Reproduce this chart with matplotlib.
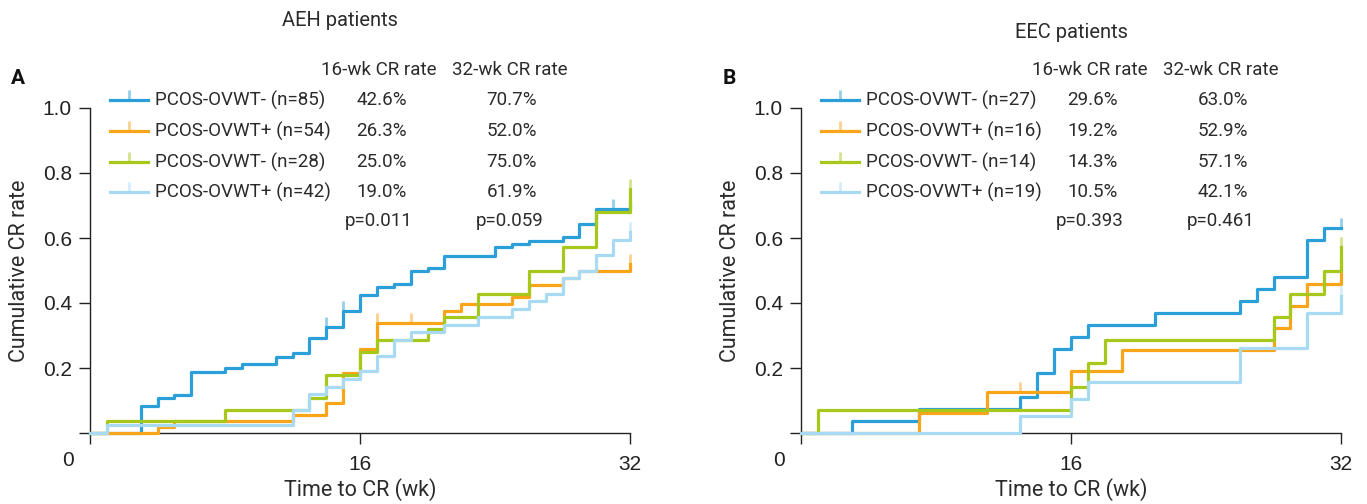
import matplotlib.pyplot as plt
import numpy as np
from matplotlib.colors import to_rgba

plt.rcParams['font.family'] = ['Roboto', 'DejaVu Sans']

# Group labels / rates
labels_a = ['PCOS-OVWT- (n=85)', 'PCOS-OVWT+ (n=54)', 'PCOS-OVWT- (n=28)', 'PCOS-OVWT+ (n=42)']
rate16_a = ['42.6%', '26.3%', '25.0%', '19.0%']
rate32_a = ['70.7%', '52.0%', '75.0%', '61.9%']
pvals_a = ['p=0.011', 'p=0.059']

labels_b = ['PCOS-OVWT- (n=27)', 'PCOS-OVWT+ (n=16)', 'PCOS-OVWT- (n=14)', 'PCOS-OVWT+ (n=19)']
rate16_b = ['29.6%', '19.2%', '14.3%', '10.5%']
rate32_b = ['63.0%', '52.9%', '57.1%', '42.1%']
pvals_b = ['p=0.393', 'p=0.461']

# Panel A step curves (weeks, cumulative CR rate)
a_blue_t = [0, 3, 4, 5, 6, 8, 9, 11, 12, 13, 14, 15, 16, 17, 18, 19, 20, 21, 24, 25, 26, 28, 29, 30, 32]
a_blue_v = [0, 0.083, 0.107, 0.117, 0.189, 0.199, 0.211, 0.233, 0.247, 0.293, 0.327, 0.376, 0.425,
            0.448, 0.46, 0.50, 0.507, 0.545, 0.571, 0.582, 0.592, 0.604, 0.643, 0.688, 0.707]
a_blue_cens = [14, 15, 31]

a_orange_t = [0, 4, 5, 12, 14, 15, 16, 17, 21, 22, 25, 26, 28, 29, 32]
a_orange_v = [0, 0.0185, 0.037, 0.055, 0.093, 0.186, 0.26, 0.337, 0.376, 0.397, 0.42, 0.455, 0.478, 0.50, 0.52]
a_orange_cens = [17, 19, 32]

a_green_t = [0, 1, 8, 13, 14, 16, 17, 20, 21, 23, 26, 28, 30, 32]
a_green_v = [0, 0.0357, 0.0714, 0.107, 0.178, 0.25, 0.286, 0.321, 0.357, 0.429, 0.50, 0.571, 0.679, 0.75]
a_green_cens = [32]

a_light_t = [0, 1, 12, 13, 14, 15, 16, 17, 18, 19, 21, 23, 25, 26, 27, 28, 29, 30, 31, 32]
a_light_v = [0, 0.0238, 0.071, 0.119, 0.143, 0.167, 0.19, 0.238, 0.286, 0.31, 0.333, 0.357, 0.381,
             0.405, 0.429, 0.476, 0.50, 0.548, 0.595, 0.619]
a_light_cens = [32]

# Panel B step curves
b_blue_t = [0, 3, 7, 13, 14, 15, 16, 17, 21, 26, 27, 28, 30, 31, 32]
b_blue_v = [0, 0.037, 0.074, 0.111, 0.185, 0.259, 0.296, 0.333, 0.37, 0.407, 0.444, 0.481, 0.593, 0.63, 0.63]
b_blue_cens = [32]

b_orange_t = [0, 7, 11, 16, 19, 28, 29, 30, 32]
b_orange_v = [0, 0.0625, 0.125, 0.192, 0.256, 0.323, 0.39, 0.457, 0.529]
b_orange_cens = [13, 32]

b_green_t = [0, 1, 16, 17, 18, 28, 29, 31, 32]
b_green_v = [0, 0.0714, 0.143, 0.214, 0.286, 0.357, 0.429, 0.50, 0.571]
b_green_cens = [32]

b_light_t = [0, 13, 16, 17, 26, 30, 32]
b_light_v = [0, 0.0526, 0.105, 0.158, 0.263, 0.368, 0.421]
b_light_cens = [32]

colors = ['#2a9fd8', '#f9a51a', '#a6c81a', '#a8daf4']
txt = '#2b2b2b'
fs = 13.5


def draw_panel(ax, curves, labels, r16, r32, pvals):
    for (t, v, cens), c in zip(curves, colors):
        t = np.array(t)
        v = np.array(v)
        ax.step(t, v, where='post', color=c, lw=2.3, clip_on=False, zorder=3)
        idx = np.searchsorted(t, cens, side='right') - 1
        ax.plot(cens, v[idx], ls='none', marker=2, ms=7, mew=2, color=to_rgba(c, 0.5),
                clip_on=False, zorder=3)

    ax.set_xlim(0, 32)
    ax.set_ylim(0, 1.0)
    ax.set_xticks([0, 16, 32])
    ax.set_xticklabels(['', '16', '32'])
    ax.set_yticks([0, 0.2, 0.4, 0.6, 0.8, 1.0])
    ax.set_yticklabels(['', '0.2', '0.4', '0.6', '0.8', '1.0'])
    ax.tick_params(direction='out', length=8, width=1, labelsize=15, pad=5, colors='#222222')
    ax.tick_params(axis='x', pad=8)
    for lab in ax.get_xticklabels() + ax.get_yticklabels():
        lab.set_family('Liberation Sans')
    ax.text(-0.04, -0.086, '0', transform=ax.transAxes, ha='center', va='center',
            fontsize=15, family='Liberation Sans', color='#222222')
    for s in ['top', 'right']:
        ax.spines[s].set_visible(False)
    for s in ['left', 'bottom']:
        ax.spines[s].set_linewidth(1)
        ax.spines[s].set_color('#222222')

    ax.set_xlabel('Time to CR (wk)', fontsize=15.5, color=txt, labelpad=3)
    ax.set_ylabel('Cumulative CR rate', fontsize=15.5, color=txt, labelpad=9)

    # legend table
    rows = [1.024, 0.929, 0.834, 0.741]
    ax.text(0.535, 1.117, '16-wk CR rate', transform=ax.transAxes, ha='center', va='center',
            fontsize=fs, color=txt)
    ax.text(0.778, 1.117, '32-wk CR rate', transform=ax.transAxes, ha='center', va='center',
            fontsize=fs, color=txt)
    for y, c, lab, a, b in zip(rows, colors, labels, r16, r32):
        ax.plot([0.037, 0.107], [y, y], transform=ax.transAxes, color=c, lw=2.3, clip_on=False)
        ax.plot([0.072], [y], transform=ax.transAxes, ls='none', marker=2, ms=7, mew=2,
                color=to_rgba(c, 0.5), clip_on=False)
        ax.text(0.12, y, lab, transform=ax.transAxes, ha='left', va='center',
                fontsize=fs, color=txt)
        ax.text(0.587, y, a, transform=ax.transAxes, ha='right', va='center',
                fontsize=fs, color=txt)
        ax.text(0.828, y, b, transform=ax.transAxes, ha='right', va='center',
                fontsize=fs, color=txt)
    ax.text(0.535, 0.652, pvals[0], transform=ax.transAxes, ha='center', va='center',
            fontsize=fs, color=txt)
    ax.text(0.777, 0.652, pvals[1], transform=ax.transAxes, ha='center', va='center',
            fontsize=fs, color=txt)


fig = plt.figure(figsize=(13.67, 5.04), dpi=100)
ax_a = fig.add_axes([90 / 1367, 71 / 504, 540 / 1367, 325 / 504])
ax_b = fig.add_axes([801 / 1367, 71 / 504, 540 / 1367, 325 / 504])

curves_a = [(a_blue_t, a_blue_v, a_blue_cens), (a_orange_t, a_orange_v, a_orange_cens),
            (a_green_t, a_green_v, a_green_cens), (a_light_t, a_light_v, a_light_cens)]
curves_b = [(b_blue_t, b_blue_v, b_blue_cens), (b_orange_t, b_orange_v, b_orange_cens),
            (b_green_t, b_green_v, b_green_cens), (b_light_t, b_light_v, b_light_cens)]

draw_panel(ax_a, curves_a, labels_a, rate16_a, rate32_a, pvals_a)
draw_panel(ax_b, curves_b, labels_b, rate16_b, rate32_b, pvals_b)

fig.text(340 / 1367, 1 - 20 / 504, 'AEH patients', ha='center', va='center', fontsize=14.5, color=txt)
fig.text(1071 / 1367, 1 - 32 / 504, 'EEC patients', ha='center', va='center', fontsize=14.5, color=txt)
fig.text(18 / 1367, 1 - 78 / 504, 'A', ha='center', va='center', fontsize=15, fontweight='bold', color='#111111')
fig.text(729 / 1367, 1 - 78 / 504, 'B', ha='center', va='center', fontsize=15, fontweight='bold', color='#111111')

fig.savefig('out.png', dpi=100)
